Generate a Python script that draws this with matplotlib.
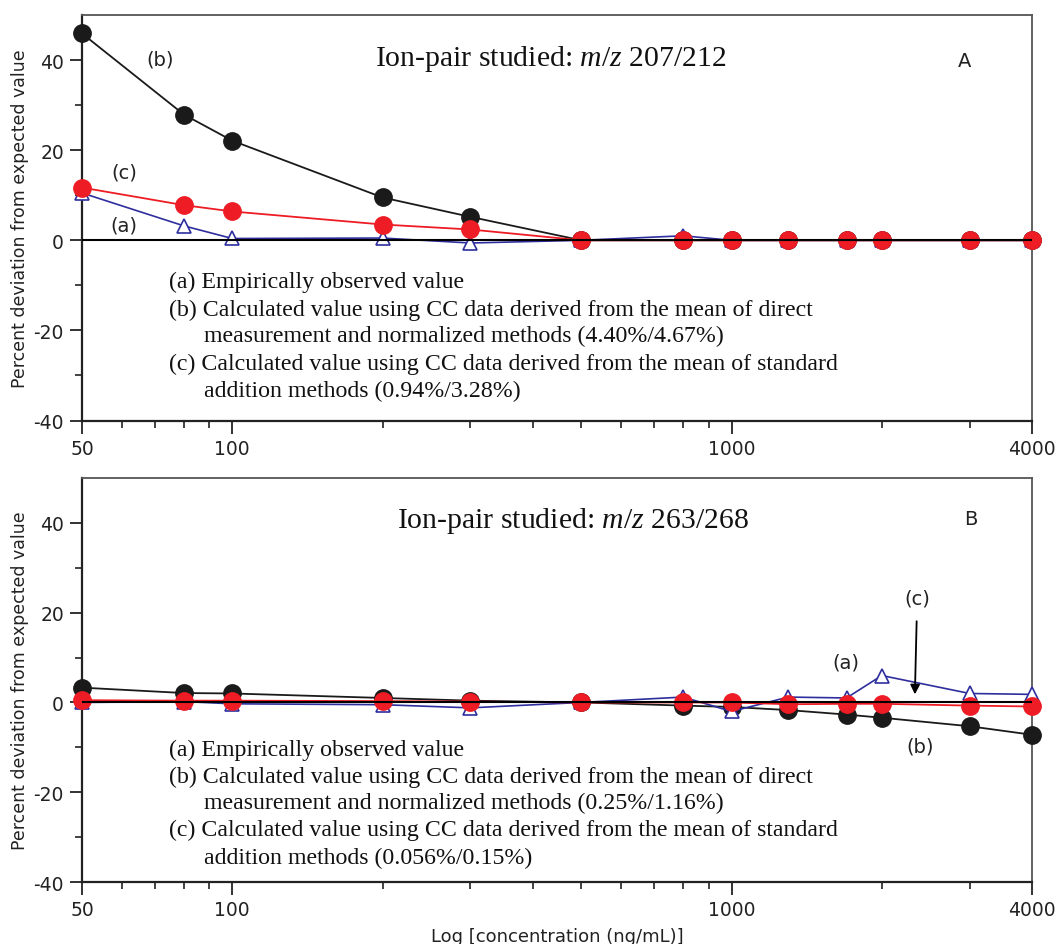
import matplotlib
matplotlib.use("Agg")
import matplotlib.pyplot as plt
from matplotlib.ticker import FixedLocator, NullFormatter

plt.rcParams['mathtext.fontset'] = 'custom'
plt.rcParams['mathtext.rm'] = 'Liberation Serif'
plt.rcParams['mathtext.it'] = 'Liberation Serif:italic'
plt.rcParams['axes.unicode_minus'] = False

# concentrations (ng/mL)
conc = [50, 80, 100, 200, 300, 500, 800, 1000, 1300, 1700, 2000, 3000, 4000]

# panel A, m/z 207/212 -- percent deviation
a_top = [10.5, 3.2, 0.4, 0.5, -0.6, 0.0, 1.0, 0.0, 0.0, 0.0, 0.0, 0.0, 0.0]
b_top = [45.9, 27.9, 22.1, 9.5, 5.2, 0.0, 0.0, 0.0, 0.0, 0.0, 0.0, 0.0, 0.0]
c_top = [11.7, 7.8, 6.4, 3.5, 2.4, 0.0, 0.0, 0.0, 0.0, 0.0, 0.0, 0.0, 0.0]

# panel B, m/z 263/268
a_bot = [0.0, 0.2, -0.3, -0.5, -1.2, 0.0, 1.2, -2.0, 1.2, 1.0, 6.0, 2.0, 1.8]
b_bot = [3.3, 2.1, 2.0, 1.0, 0.4, 0.0, -0.7, -1.0, -1.7, -2.7, -3.4, -5.3, -7.2]
c_bot = [0.5, 0.4, 0.4, 0.3, 0.2, 0.0, 0.0, 0.0, -0.4, -0.3, -0.3, -0.7, -0.9]

major_x = [50, 100, 1000, 4000]
minor_x = [60, 70, 80, 90, 200, 300, 400, 500, 600, 700, 800, 900, 2000, 3000]

notes_a = "(a) Empirically observed value"
notes_b = ["(b) Calculated value using CC data derived from the mean of direct",
           "measurement and normalized methods (4.40%/4.67%)",
           "measurement and normalized methods (0.25%/1.16%)"]
notes_c = ["(c) Calculated value using CC data derived from the mean of standard",
           "addition methods (0.94%/3.28%)",
           "addition methods (0.056%/0.15%)"]

ylab = "Percent deviation from expected value"

fig = plt.figure(figsize=(10.57, 9.45), dpi=100)
ax1 = fig.add_axes([0.0776, 0.5539, 0.8988, 0.4292])
ax2 = fig.add_axes([0.0776, 0.0656, 0.8988, 0.4275])


def setup(ax):
    ax.set_xscale('log')
    ax.set_xlim(50, 4000)
    ax.set_ylim(-40, 50)
    ax.xaxis.set_major_locator(FixedLocator(major_x))
    ax.xaxis.set_minor_locator(FixedLocator(minor_x))
    ax.xaxis.set_minor_formatter(NullFormatter())
    ax.set_xticklabels([str(v) for v in major_x])
    ax.set_yticks([-40, -20, 0, 20, 40])
    ax.set_yticklabels(['-40', '-20', '0', '20', '40'])
    ax.set_yticks([-30, -10, 10, 30], minor=True)
    ax.tick_params(which='major', length=9, width=1.3, direction='out',
                   labelsize=13.5, pad=4, colors='#222222')
    ax.tick_params(which='minor', length=5, width=1.2, direction='out',
                   colors='#222222')
    for lab in ax.get_xticklabels() + ax.get_yticklabels():
        lab.set_family('DejaVu Sans')
    for side in ['top', 'right']:
        ax.spines[side].set_color('#555555')
        ax.spines[side].set_linewidth(1.3)
    for side in ['left', 'bottom']:
        ax.spines[side].set_color('#222222')
        ax.spines[side].set_linewidth(1.6)
    ax.axhline(0, color='black', lw=1.5, zorder=6)
    ax.set_ylabel(ylab, family='DejaVu Sans', fontsize=12.5, color='#222222',
                  labelpad=3)


def curves(ax, a, b, c):
    ax.plot(conc, b, color='#1a1a1a', lw=1.3, marker='o', ms=12.5,
            mfc='#1a1a1a', mec='#1a1a1a', zorder=3, clip_on=False)
    ax.plot(conc, a, color='#2e2e9e', lw=1.2, marker='^', ms=10,
            mfc='white', mec='#2e2e9e', mew=1.2, zorder=4, clip_on=False)
    ax.plot(conc, c, color='#ee1c24', lw=1.3, marker='o', ms=12.5,
            mfc='#ee1c24', mec='#ee1c24', zorder=5, clip_on=False)


def notes(ax, ys, bline, cline):
    serif = dict(family='Liberation Serif', fontsize=17.2, va='center',
                 transform=ax.transAxes, color='#111111')
    ax.text(0.0916, ys[0], notes_a, **serif)
    ax.text(0.0916, ys[1], notes_b[0], **serif)
    ax.text(0.128, ys[2], bline, **serif)
    ax.text(0.0916, ys[3], notes_c[0], **serif)
    ax.text(0.128, ys[4], cline, **serif)


lbl = dict(family='DejaVu Sans', fontsize=14, ha='center', va='center',
           color='#222222')
title_kw = dict(family='Liberation Serif', fontsize=21.4, ha='center',
                va='center', color='#111111')

# panel A
setup(ax1)
curves(ax1, a_top, b_top, c_top)
ax1.text(0.493, 0.894, r"Ion-pair studied: $m/z$ 207/212",
         transform=ax1.transAxes, **title_kw)
ax1.text(2924, 39.8, "A", **lbl)
ax1.text(71.6, 40.2, "(b)", **lbl)
ax1.text(60.7, 15.1, "(c)", **lbl)
ax1.text(60.7, 3.3, "(a)", **lbl)
notes(ax1, [0.342, 0.275, 0.209, 0.142, 0.075], notes_b[1], notes_c[1])

# panel B
setup(ax2)
curves(ax2, a_bot, b_bot, c_bot)
ax2.text(0.517, 0.896, r"Ion-pair studied: $m/z$ 263/268",
         transform=ax2.transAxes, **title_kw)
ax2.text(3020, 40.9, "B", **lbl)
ax2.text(1698, 9.1, "(a)", **lbl)
ax2.text(2388, -9.6, "(b)", **lbl)
ax2.annotate("(c)", xy=(2330, 1.8), xytext=(2355, 23.3),
             ha='center', va='center', family='DejaVu Sans', fontsize=14,
             color='#222222', zorder=7,
             arrowprops=dict(arrowstyle='-|>', color='black', lw=1.3,
                             mutation_scale=14, shrinkA=8, shrinkB=0))
notes(ax2, [0.329, 0.262, 0.196, 0.129, 0.062], notes_b[2], notes_c[2])
ax2.set_xlabel("Log [concentration (ng/mL)]", family='DejaVu Sans',
               fontsize=13, color='#222222', labelpad=6)

fig.savefig("out.png", dpi=100)
